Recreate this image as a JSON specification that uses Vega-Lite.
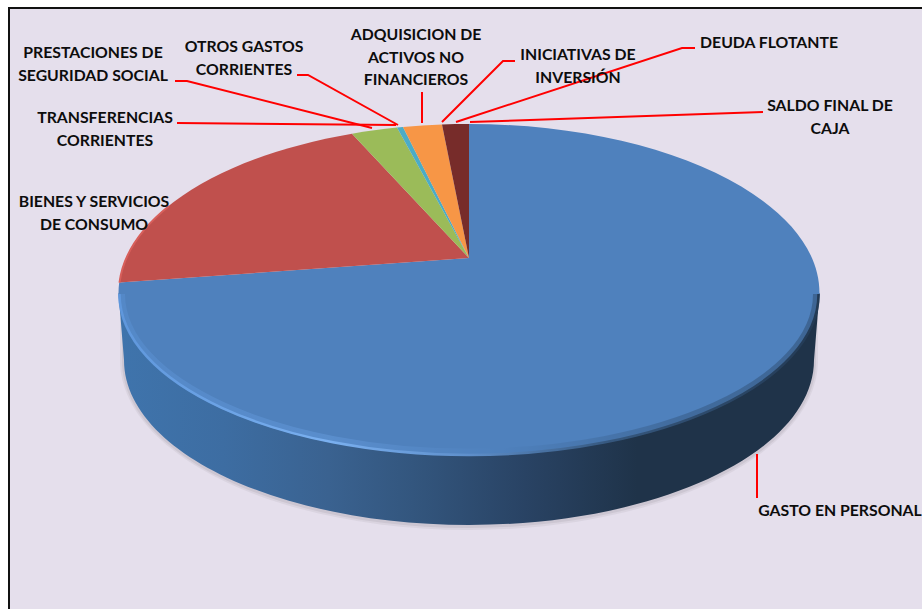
{
"$schema":"https://vega.github.io/schema/vega-lite/v6.json",
"autosize":{"type":"none"},
"width":922,"height":609,"padding":0,"background":"#FFFFFF",
"view":{"stroke":null},
"config":{"text":{"font":"Lato","fontWeight":"bold","fontSize":15.8,"lineHeight":22.5,"align":"center","baseline":"middle","color":"#0D0D0D","lineBreak":"\n"}},
"data":{"values":[
{"concepto":"GASTO EN PERSONAL","etiqueta":"GASTO EN PERSONAL","share":72.0},
{"concepto":"BIENES Y SERVICIOS DE CONSUMO","etiqueta":"BIENES Y SERVICIOS\nDE CONSUMO","share":20.4},
{"concepto":"TRANSFERENCIAS CORRIENTES","etiqueta":"TRANSFERENCIAS\nCORRIENTES","share":3.0},
{"concepto":"PRESTACIONES DE SEGURIDAD SOCIAL","etiqueta":"PRESTACIONES DE\nSEGURIDAD SOCIAL","share":0.0},
{"concepto":"OTROS GASTOS CORRIENTES","etiqueta":"OTROS GASTOS\nCORRIENTES","share":0.4},
{"concepto":"ADQUISICION DE ACTIVOS NO FINANCIEROS","etiqueta":"ADQUISICION DE\nACTIVOS NO\nFINANCIEROS","share":2.4},
{"concepto":"INICIATIVAS DE INVERSIÓN","etiqueta":"INICIATIVAS DE\nINVERSIÓN","share":0.0},
{"concepto":"DEUDA FLOTANTE","etiqueta":"DEUDA FLOTANTE","share":1.8},
{"concepto":"SALDO FINAL DE CAJA","etiqueta":"SALDO FINAL DE\nCAJA","share":0.0}
]},
"datasets":{"guias":[
{"concepto":"PRESTACIONES","orden":1,"gx":175,"gy":81},{"concepto":"PRESTACIONES","orden":2,"gx":187,"gy":81},{"concepto":"PRESTACIONES","orden":3,"gx":372,"gy":128},
{"concepto":"TRANSFERENCIAS","orden":1,"gx":177,"gy":123},{"concepto":"TRANSFERENCIAS","orden":2,"gx":396,"gy":125},
{"concepto":"OTROS","orden":1,"gx":297,"gy":75},{"concepto":"OTROS","orden":2,"gx":308,"gy":75},{"concepto":"OTROS","orden":3,"gx":398,"gy":125},
{"concepto":"ADQUISICION","orden":1,"gx":422,"gy":92},{"concepto":"ADQUISICION","orden":2,"gx":422,"gy":123},
{"concepto":"INICIATIVAS","orden":1,"gx":515,"gy":61},{"concepto":"INICIATIVAS","orden":2,"gx":503,"gy":61},{"concepto":"INICIATIVAS","orden":3,"gx":442,"gy":122},
{"concepto":"DEUDA","orden":1,"gx":695,"gy":48},{"concepto":"DEUDA","orden":2,"gx":682,"gy":48},{"concepto":"DEUDA","orden":3,"gx":456,"gy":122},
{"concepto":"SALDO","orden":1,"gx":763,"gy":112},{"concepto":"SALDO","orden":2,"gx":470,"gy":122},
{"concepto":"GASTO","orden":1,"gx":757,"gy":454},{"concepto":"GASTO","orden":2,"gx":757,"gy":498}
]},
"resolve":{"scale":{"x":"independent","y":"independent"}},
"layer":[
{"transform":[{"filter":"datum.concepto==='GASTO EN PERSONAL'"}],
 "mark":{"type":"rect","fill":"#E5DFEC","stroke":"#111111","strokeWidth":2,"clip":false},
 "encoding":{"x":{"datum":9,"type":"quantitative","scale":{"domain":[0,922]},"axis":null},"x2":{"datum":935},
  "y":{"datum":8,"type":"quantitative","scale":{"domain":[0,609],"reverse":true},"axis":null},"y2":{"datum":625}}},
{"transform":[{"filter":"datum.concepto==='GASTO EN PERSONAL'"}],
 "layer":[
 {"mark":{"type":"point","filled":true,"fill":"#C6C1CC","opacity":0.35,"strokeWidth":0},
  "encoding":{"shape":{"value":"M-349,60 L-349,102 A349,170 0 0 0 349,102 L349,60 Z"}}},
 {"mark":{"type":"point","filled":true,"fill":"#C6C1CC","opacity":0.7,"strokeWidth":0},
  "encoding":{"shape":{"value":"M-347,60 L-347,103 A347,167 0 0 0 347,103 L347,60 Z"}}},
 {"mark":{"type":"point","filled":true,"opacity":1,"strokeWidth":0,"fill":{"gradient":"linear","x1":0,"y1":0,"x2":1,"y2":0,"stops":[{"offset":0,"color":"#3F74AC"},{"offset":0.15,"color":"#3D6DA2"},{"offset":0.3,"color":"#3A6290"},{"offset":0.42,"color":"#33567E"},{"offset":0.58,"color":"#294364"},{"offset":0.74,"color":"#1F3349"},{"offset":1,"color":"#1F3349"}]}},
  "encoding":{"shape":{"value":"M-350.5,35 L-345,102 A345,165 0 0 0 345,102 L350.5,35 Z"}}}
 ],
 "encoding":{"x":{"datum":469,"type":"quantitative","scale":{"domain":[0,922]},"axis":null},"y":{"datum":258,"type":"quantitative","scale":{"domain":[0,609],"reverse":true},"axis":null},"size":{"value":4}}},
{"transform":[{"filter":"datum.share>0"}],
 "mark":{"type":"point","filled":true,"opacity":1,"strokeWidth":0},
 "encoding":{
  "x":{"datum":469,"type":"quantitative","scale":{"domain":[0,922]},"axis":null},"y":{"datum":258,"type":"quantitative","scale":{"domain":[0,609],"reverse":true},"axis":null},
  "size":{"value":4},
  "shape":{"field":"concepto","type":"nominal","legend":null,"scale":{"domain":["GASTO EN PERSONAL","BIENES Y SERVICIOS DE CONSUMO","TRANSFERENCIAS CORRIENTES","OTROS GASTOS CORRIENTES","ADQUISICION DE ACTIVOS NO FINANCIEROS","DEUDA FLOTANTE"],"range":[
   "M0,0 L0,-134 A350.5,169 0 0 1 350.5,35 A350.5,162 0 0 1 -350.5,35 A350.5,169 0 0 1 -349.8,24.6 Z",
   "M0,0 L-349.8,24.6 A350.5,169 0 0 1 -117,-124.3 Z",
   "M0,0 L-117,-124.3 A350.5,169 0 0 1 -72,-130.4 Z",
   "M0,0 L-72,-130.4 A350.5,169 0 0 1 -66,-131 Z",
   "M0,0 L-66,-131 A350.5,169 0 0 1 -27,-133.5 Z",
   "M0,0 L-27,-133.5 A350.5,169 0 0 1 0,-134 Z"]}},
  "color":{"field":"concepto","type":"nominal","legend":null,"scale":{"domain":["GASTO EN PERSONAL","BIENES Y SERVICIOS DE CONSUMO","TRANSFERENCIAS CORRIENTES","OTROS GASTOS CORRIENTES","ADQUISICION DE ACTIVOS NO FINANCIEROS","DEUDA FLOTANTE"],"range":["#4F81BD","#C0504D","#9BBB59","#4BACC6","#F79646","#772C2A"]}}
 }},
{"transform":[{"filter":"datum.concepto==='GASTO EN PERSONAL'"}],
 "layer":[
 {"mark":{"type":"point","filled":false,"opacity":0.35,"strokeWidth":7,"stroke":{"gradient":"linear","x1":0,"y1":0,"x2":1,"y2":0,"stops":[{"offset":0,"color":"#5F97DC"},{"offset":0.3,"color":"#6FA6EA"},{"offset":0.55,"color":"#4F81BD"},{"offset":0.8,"color":"#2A4666"},{"offset":1,"color":"#1F3349"}]}},
  "encoding":{"shape":{"value":"M-347.5,36 A347.5,158 0 0 0 347.5,36"}}},
 {"mark":{"type":"point","filled":false,"opacity":1,"strokeWidth":2.5,"stroke":{"gradient":"linear","x1":0,"y1":0,"x2":1,"y2":0,"stops":[{"offset":0,"color":"#5F97DC"},{"offset":0.3,"color":"#7AB0F0"},{"offset":0.5,"color":"#5E8FCB"},{"offset":0.7,"color":"#36587F"},{"offset":1,"color":"#233A54"}]}},
  "encoding":{"shape":{"value":"M-349.5,36 A349.5,161 0 0 0 349.5,36"}}},
 {"mark":{"type":"point","filled":false,"opacity":1,"strokeWidth":2,"stroke":"#D85F5B"},
  "encoding":{"shape":{"value":"M-349.5,24.6 A350.5,169 0 0 1 -300,-52"}}}
 ],
 "encoding":{"x":{"datum":469,"type":"quantitative","scale":{"domain":[0,922]},"axis":null},"y":{"datum":258,"type":"quantitative","scale":{"domain":[0,609],"reverse":true},"axis":null},"size":{"value":4}}},
{"data":{"name":"guias"},
 "mark":{"type":"line","color":"#FF0000","strokeWidth":2,"interpolate":"linear"},
 "encoding":{"x":{"field":"gx","type":"quantitative","scale":{"domain":[0,922]},"axis":null},"y":{"field":"gy","type":"quantitative","scale":{"domain":[0,609],"reverse":true},"axis":null},"detail":{"field":"concepto"},"order":{"field":"orden"}}},
{"transform":[{"filter":"datum.concepto==='GASTO EN PERSONAL'"}],"mark":{"type":"text"},"encoding":{"text":{"field":"etiqueta"},"x":{"datum":840,"type":"quantitative","scale":{"domain":[0,922]},"axis":null},"y":{"datum":511,"type":"quantitative","scale":{"domain":[0,609],"reverse":true},"axis":null}}},
{"transform":[{"filter":"datum.concepto==='BIENES Y SERVICIOS DE CONSUMO'"}],"mark":{"type":"text"},"encoding":{"text":{"field":"etiqueta"},"x":{"datum":94,"type":"quantitative","scale":{"domain":[0,922]},"axis":null},"y":{"datum":202,"type":"quantitative","scale":{"domain":[0,609],"reverse":true},"axis":null}}},
{"transform":[{"filter":"datum.concepto==='TRANSFERENCIAS CORRIENTES'"}],"mark":{"type":"text"},"encoding":{"text":{"field":"etiqueta"},"x":{"datum":105,"type":"quantitative","scale":{"domain":[0,922]},"axis":null},"y":{"datum":118,"type":"quantitative","scale":{"domain":[0,609],"reverse":true},"axis":null}}},
{"transform":[{"filter":"datum.concepto==='PRESTACIONES DE SEGURIDAD SOCIAL'"}],"mark":{"type":"text"},"encoding":{"text":{"field":"etiqueta"},"x":{"datum":93,"type":"quantitative","scale":{"domain":[0,922]},"axis":null},"y":{"datum":53,"type":"quantitative","scale":{"domain":[0,609],"reverse":true},"axis":null}}},
{"transform":[{"filter":"datum.concepto==='OTROS GASTOS CORRIENTES'"}],"mark":{"type":"text"},"encoding":{"text":{"field":"etiqueta"},"x":{"datum":244,"type":"quantitative","scale":{"domain":[0,922]},"axis":null},"y":{"datum":47,"type":"quantitative","scale":{"domain":[0,609],"reverse":true},"axis":null}}},
{"transform":[{"filter":"datum.concepto==='ADQUISICION DE ACTIVOS NO FINANCIEROS'"}],"mark":{"type":"text"},"encoding":{"text":{"field":"etiqueta"},"x":{"datum":416,"type":"quantitative","scale":{"domain":[0,922]},"axis":null},"y":{"datum":35,"type":"quantitative","scale":{"domain":[0,609],"reverse":true},"axis":null}}},
{"transform":[{"filter":"datum.concepto==='INICIATIVAS DE INVERSIÓN'"}],"mark":{"type":"text"},"encoding":{"text":{"field":"etiqueta"},"x":{"datum":578,"type":"quantitative","scale":{"domain":[0,922]},"axis":null},"y":{"datum":55,"type":"quantitative","scale":{"domain":[0,609],"reverse":true},"axis":null}}},
{"transform":[{"filter":"datum.concepto==='DEUDA FLOTANTE'"}],"mark":{"type":"text"},"encoding":{"text":{"field":"etiqueta"},"x":{"datum":769,"type":"quantitative","scale":{"domain":[0,922]},"axis":null},"y":{"datum":43,"type":"quantitative","scale":{"domain":[0,609],"reverse":true},"axis":null}}},
{"transform":[{"filter":"datum.concepto==='SALDO FINAL DE CAJA'"}],"mark":{"type":"text"},"encoding":{"text":{"field":"etiqueta"},"x":{"datum":830,"type":"quantitative","scale":{"domain":[0,922]},"axis":null},"y":{"datum":106,"type":"quantitative","scale":{"domain":[0,609],"reverse":true},"axis":null}}}
]
}
